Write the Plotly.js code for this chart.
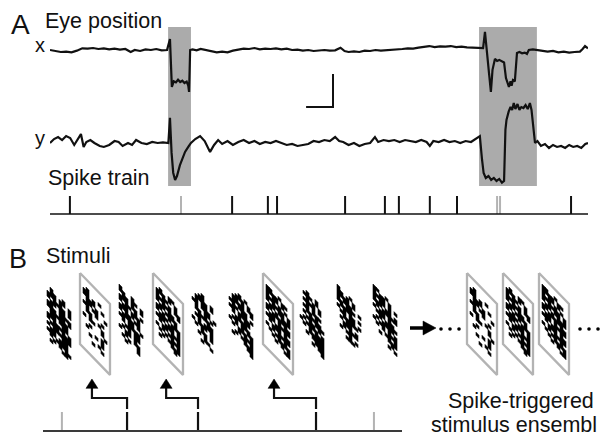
<!DOCTYPE html>
<html><head><meta charset="utf-8">
<script src="https://cdn.plot.ly/plotly-3.0.1.min.js"></script>
<style>html,body{margin:0;padding:0;background:#fff}#chart{width:600px;height:437px}</style>
</head><body><div id="chart"></div>
<script>
// ---------- DATA ----------
// Panel A: horizontal eye position (deg) vs time (ms)
const tEyeX = [0,20,40,60,80,100,120,140,160,180,200,220,240,260,280,300,315,335,355,375,395,415,435,
  446,453,460,468,476,484,492,500,508,514,517,521,530,545,560,
  580,600,620,640,660,680,700,720,740,760,780,800,820,840,860,880,900,920,
  940,960,980,1000,1020,1040,1060,1080,1095,1110,1130,1150,1170,1190,1210,1230,1250,1270,1290,
  1310,1330,1350,1370,1390,1410,1430,1450,1470,1490,1510,1530,1550,1570,1590,1610,
  1617,1624,1632,1639,1645,1654,1662,1670,1680,1688,1695,1700,1706,1712,1716,1721,1728,1736,
  1745,1755,1765,1773,1780,1795,1810,1830,1850,1870,1890,1910,1930,1950,1970,1980,1989,2000];
const eyeXdeg = [0.00,-0.03,-0.06,-0.05,-0.07,-0.02,0.05,0.04,0.06,0.03,0.05,0.02,0.04,0.01,0.03,-0.06,0.00,-0.03,0.02,0.00,0.03,-0.01,0.00,
  0.33,-1.12,-0.95,-0.98,-0.90,-0.97,-0.93,-1.00,-0.96,-1.08,-1.27,0.00,0.02,-0.01,0.03,
  0.00,-0.03,-0.07,-0.05,-0.07,-0.02,0.02,0.04,0.03,0.06,0.02,0.04,0.03,0.05,0.02,0.04,0.00,0.01,
  -0.02,0.00,-0.03,-0.01,0.00,-0.02,-0.01,0.07,-0.03,-0.06,-0.04,-0.06,-0.02,-0.03,0.00,-0.02,-0.01,0.01,0.00,
  0.03,0.05,0.04,0.07,0.09,0.12,0.09,0.11,0.10,0.12,0.09,0.10,0.08,0.07,0.06,0.06,
  0.55,0.05,-0.70,-1.27,-0.60,-0.27,-0.33,-0.30,-0.36,-0.38,-0.85,-1.00,-1.12,-0.95,-1.08,-0.91,-0.95,-0.09,
  -0.06,-0.10,-0.08,-0.12,0.00,0.02,0.00,-0.02,-0.05,-0.03,-0.07,-0.05,-0.08,-0.06,-0.05,0.03,0.12,0.05];
// Panel A: vertical eye position (deg) vs time (ms)
const tEyeY = [0,15,30,45,60,75,90,105,115,125,135,150,165,185,200,220,240,255,270,290,305,320,340,360,380,400,420,440,
  446,452,458,465,472,483,495,502,514,524,540,558,575,595,610,625,640,660,680,700,720,740,760,780,800,820,840,860,880,900,920,
  940,960,980,1000,1020,1040,1060,1075,1090,1110,1130,1150,1170,1190,1208,1220,1240,1260,1280,1300,1320,1340,1360,1380,1400,
  1412,1425,1445,1465,1485,1505,1525,1545,1565,1580,1598,1606,1612,1620,1630,1640,1650,1660,1670,1680,1688,
  1693,1697,1705,1712,1718,1724,1730,1738,1745,1752,1760,1768,1776,1784,1790,1796,1803,1812,1825,1840,1855,1870,1885,1900,1915,1930,1945,1960,1975,1990,2000];
const eyeYdeg = [0.00,0.12,0.18,0.09,0.21,0.15,-0.06,0.12,0.27,-0.12,0.03,0.09,0.00,-0.09,-0.12,-0.06,0.06,0.03,-0.09,0.00,-0.06,0.09,0.00,-0.03,0.03,0.00,0.02,0.00,
  0.76,-0.30,-0.90,-1.12,-1.00,-0.67,-0.45,-0.27,-0.12,0.00,0.12,0.21,0.06,-0.27,-0.06,0.09,-0.03,0.06,-0.06,0.03,0.09,0.00,0.06,-0.03,0.03,0.00,0.06,0.00,-0.06,-0.03,-0.09,
  -0.06,-0.03,0.06,0.03,0.09,0.06,0.18,0.06,0.03,-0.06,0.00,-0.09,-0.03,0.00,0.18,0.03,0.09,0.06,0.09,0.03,0.09,0.06,0.03,0.09,0.03,
  -0.09,0.06,0.03,0.09,0.03,0.06,0.00,0.06,0.03,0.12,0.21,-0.50,-0.91,-1.06,-1.00,-1.12,-1.06,-1.15,-1.09,-1.20,-1.15,
  0.40,0.70,0.95,1.09,1.00,1.21,1.03,1.18,1.00,1.09,1.06,1.15,1.03,1.21,1.00,0.50,0.00,0.06,-0.09,-0.03,-0.15,-0.06,-0.12,-0.09,-0.15,-0.06,-0.12,-0.09,-0.15,-0.03,0.00];
// saccade windows (ms)
const saccadeStart = [439, 1595];
const saccadeEnd = [524, 1810];
// spike times (ms)
const spikeBlackA = [74, 677, 810, 844, 1097, 1245, 1297, 1412, 1513, 1937];
const spikeGreyA = [487, 1662, 1673];
// scale bar
const scaleBarMs = 100, scaleBarDeg = 1;
const scaleBarEndMs = 1052, scaleBarBaseDeg = -1.73;

// Panel B: stimulus frames, binary noise; each pattern = 18 rows (top->bottom) of 8 cells
const stimPatterns = [
 [".#...#..",".##.##.#","###.#..#","#.####.#",".##.##..","##..####","###.##.#",".######.",".##.###.","###..##.","#.####.#",".###.###","#.######",".##..##.","###.###.",".#.####.","..#.#.##",".#...##."],
 [".#......","##...#..","##.#....",".###..#.",".##.#...","##.##..#",".#..#...",".##...#.","..#..#..","#.##..#.","......#.","..#....#",".#....#.","....#.#.","..#...#.",".....#..","...#..#.","........"],
 ["#...#...","##..##.#",".##.#..#","###.##..","#.##.#.#",".##.###.","###.#.#.","#.##.##.",".####.#.","##.##..#",".#.####.","..##.##.",".#.#.##.","#.##.#..","..#..##.",".#.#..#.","..#...#.","........"],
 [".#..##..","###.#.#.","#.##..#.","###.#.##","#.###..#",".##.##..","##.####.","#.#.#.#.",".###.###","###.##.#",".#.###.#","..##.###","#.#.##.#",".#.#.###","..#.##.#",".#...###","......#.","........"],
 ["...#....","..##..#.",".####.#.",".#.##...","##.###..",".#..##.#",".##.#.#.","..####..",".##..##.","..#.###.","#.###.#.",".#.#..#.","...##.#.","..#.#...","....##..","...#..#.","........","........"],
 ["...#.#..","..###.#.",".##.#.##",".####..#","##.###..",".##.##.#","##.####.",".#.#.##.","..####..",".##.###.","#.#.#.##",".#.###.#","...#.###","..#.##.#",".#...###","......##",".......#","........"],
 ["##..#...","####.##.","#.##.#..","###.#.#.","#.####.#",".##.##.#","##.#.###","#.#####.",".##.#.##","###.####",".#.##.#.","..###.##","#.#.####",".#.##.#.","..#.####","...#.#.#","......##","........"],
 ["..#..#..",".###.#..","..#.#.#.",".####.#.","..#.#...",".##.###.","..##.#..",".#.####.","..##.###",".#.##.#.","#.####.#",".#.#.###","...#####","..#.####",".....###","....#.##",".......#","........"],
 ["#...#...","##.#.#..","####.#..","#.###..#","##.###..",".####..#","#.#.##..",".##.##.#","..#####.",".#.##...","..###.#.","..#.###.",".#.##...","....#.#.","...###..","........","........","........"],
 ["##..#...","#.##.#..","####.#.#","#.##.#..","###.##.#",".#.#####","#.##.#..",".###.##.","..#.####",".#.####.","#.##.#.#",".#.#.###","....##.#","..#..###","......#.",".....#.#","........","........"]
];
const framedIdx = [1, 3, 6];          // frames that preceded a spike
const ensembleIdx = [1, 3, 6];        // spike-triggered stimulus ensemble
// Panel B spike train (ms)
const spikeBlackB = [188, 384, 710];
const spikeGreyB = [8, 870];
const triggeredFrameT = [91, 296, 594];

// ---------- LAYOUT CONSTANTS ----------
const W = 600, H = 437;
const dom = (topPx, botPx) => [1 - botPx / H, 1 - topPx / H];
const patX = [47, 83, 119, 156, 192, 229, 266, 300, 337, 373];
const ensFrameX = [467, 503, 539];
const frameTop = 273, frameW = 30, frameH = 71, patTop = 284, cell = 3, shear = 1.03;
const black = '#111111', grey = '#b3b3b3';

const traces = [];
traces.push({x: tEyeX, y: eyeXdeg, xaxis: 'x2', yaxis: 'y2', mode: 'lines', line: {color: black, width: 2.2}});
traces.push({x: tEyeY, y: eyeYdeg, xaxis: 'x2', yaxis: 'y3', mode: 'lines', line: {color: black, width: 2.2}});
traces.push({x: [scaleBarEndMs - scaleBarMs, scaleBarEndMs, scaleBarEndMs],
  y: [scaleBarBaseDeg, scaleBarBaseDeg, scaleBarBaseDeg + scaleBarDeg],
  xaxis: 'x2', yaxis: 'y2', mode: 'lines', line: {color: black, width: 2}});
function spikeSeg(times, y0, y1) {
  const x = [], y = [];
  times.forEach(t => { x.push(t, t, null); y.push(y0, y1, null); });
  return {x, y};
}
let s = spikeSeg(spikeGreyA, 0, 1);
traces.push({x: s.x, y: s.y, xaxis: 'x2', yaxis: 'y4', mode: 'lines', line: {color: grey, width: 2}});
s = spikeSeg(spikeBlackA, 0, 1);
traces.push({x: s.x, y: s.y, xaxis: 'x2', yaxis: 'y4', mode: 'lines', line: {color: black, width: 2}});
traces.push({x: [0, 2000], y: [0, 0], xaxis: 'x2', yaxis: 'y4', mode: 'lines', line: {color: black, width: 1.6}});

// Panel B frames
function framePath(fx) {
  return [[fx, frameTop], [fx + frameW, frameTop + frameW * shear], [fx + frameW, frameTop + frameW * shear + frameH], [fx, frameTop + frameH], [fx, frameTop]];
}
const fxList = framedIdx.map(i => patX[i] - 3).concat(ensFrameX);
const fX = [], fY = [];
fxList.forEach(fx => { framePath(fx).forEach(p => { fX.push(p[0]); fY.push(p[1]); }); fX.push(null); fY.push(null); });
traces.push({x: fX, y: fY, mode: 'lines', line: {color: grey, width: 2.3}, xaxis: 'x', yaxis: 'y'});
// patterns: merge vertical runs of black cells within each column into one sheared block
const pX = [], pY = [];
function drawPattern(pat, x0, y0) {
  const nr = pat.length, nc = pat[0].length;
  for (let c = 0; c < nc; c++) {
    let r = 0;
    while (r < nr) {
      if (pat[r][c] === '#') {
        let r1 = r;
        while (r1 + 1 < nr && pat[r1 + 1][c] === '#') r1++;
        const xa = x0 + c * cell, xb = xa + cell;
        const ya = y0 + r * cell + shear * c * cell;
        const h = (r1 - r + 1) * cell;
        pX.push(xa, xb, xb, xa, xa, null);
        pY.push(ya, ya + shear * cell, ya + shear * cell + h, ya + h, ya, null);
        r = r1 + 1;
      } else r++;
    }
  }
}
stimPatterns.forEach((pat, i) => drawPattern(pat, patX[i], patTop));
ensembleIdx.forEach((pi, k) => drawPattern(stimPatterns[pi], ensFrameX[k] + 3, patTop));
traces.push({x: pX, y: pY, mode: 'lines', fill: 'toself', fillcolor: '#000', line: {color: '#000', width: 0.6}, xaxis: 'x', yaxis: 'y'});

// right arrow and dots
traces.push({x: [410, 425], y: [328, 328], mode: 'lines', line: {color: '#000', width: 3.5}, xaxis: 'x', yaxis: 'y'});
traces.push({x: [423, 436, 423, 423], y: [321, 328, 335, 321], mode: 'lines', fill: 'toself', fillcolor: '#000', line: {color: '#000', width: 0.5}, xaxis: 'x', yaxis: 'y'});
traces.push({x: [441, 450, 459, 580, 589, 598], y: [329, 329, 329, 329, 329, 329], mode: 'markers', marker: {color: '#000', size: 3.6}, xaxis: 'x', yaxis: 'y'});

// Panel B spike train and arrows
s = spikeSeg(spikeGreyB, 0, 0.365);
traces.push({x: s.x, y: s.y, xaxis: 'x3', yaxis: 'y5', mode: 'lines', line: {color: grey, width: 2}});
s = spikeSeg(spikeBlackB, 0, 0.365);
traces.push({x: s.x, y: s.y, xaxis: 'x3', yaxis: 'y5', mode: 'lines', line: {color: black, width: 2.2}});
const aX = [], aY = [], hX = [], hY = [];
const headHalf = 16.5;
spikeBlackB.forEach((t, i) => {
  const f = triggeredFrameT[i];
  aX.push(t, t, f, f, null); aY.push(0.423, 0.635, 0.635, 0.83, null);
  hX.push(f - headHalf, f + headHalf, f, f - headHalf, null); hY.push(0.82, 0.82, 1.0, 0.82, null);
});
traces.push({x: aX, y: aY, xaxis: 'x3', yaxis: 'y5', mode: 'lines', line: {color: black, width: 2.2}});
traces.push({x: hX, y: hY, xaxis: 'x3', yaxis: 'y5', mode: 'lines', fill: 'toself', fillcolor: '#000', line: {color: '#000', width: 0.5}});
traces.push({x: [-44.2, 947.5], y: [0, 0], xaxis: 'x3', yaxis: 'y5', mode: 'lines', line: {color: '#3a3a3a', width: 1.8}});

const font = 'Liberation Sans, Arial, sans-serif';
function ann(text, x, y, size, anchor) {
  return {text, x, y, xref: 'x', yref: 'y', showarrow: false, xanchor: anchor || 'left', yanchor: 'middle',
    font: {family: font, size, color: '#111'}};
}
const hid = {visible: false, showgrid: false, zeroline: false, fixedrange: true};
const layout = {
  width: W, height: H, margin: {l: 0, r: 0, t: 0, b: 0},
  paper_bgcolor: '#fff', plot_bgcolor: 'rgba(0,0,0,0)', showlegend: false, hovermode: false,
  xaxis: Object.assign({domain: [0, 1], range: [0, W]}, hid),
  yaxis: Object.assign({domain: [0, 1], range: [H, 0]}, hid),
  xaxis2: Object.assign({domain: [50 / W, 588 / W], range: [0, 2000], anchor: 'y2'}, hid),
  yaxis2: Object.assign({domain: dom(50 - 0.7 * 33, 50 + 1.8 * 33), range: [-1.8, 0.7], anchor: 'x2'}, hid),
  yaxis3: Object.assign({domain: dom(143 - 1.5 * 33, 143 + 1.5 * 33), range: [-1.5, 1.5], anchor: 'x2'}, hid),
  yaxis4: Object.assign({domain: dom(196, 214 + 0.15 * 18), range: [-0.15, 1], anchor: 'x2'}, hid),
  xaxis3: Object.assign({domain: [43 / W, 402 / W], range: [-44.2, 947.5], anchor: 'y5'}, hid),
  yaxis5: Object.assign({domain: dom(379 - 0.05 * 52, 431 + 0.1 * 52), range: [-0.1, 1.05], anchor: 'x3'}, hid),
  shapes: saccadeStart.map((t0, i) => ({type: 'rect', xref: 'x2', yref: 'paper', x0: t0, x1: saccadeEnd[i],
    y0: 1 - 186 / H, y1: 1 - 27 / H, fillcolor: '#ababab', line: {width: 0}, layer: 'below'})),
  annotations: [
    ann('A', 9, 24, 28), ann('Eye position', 43, 21, 21.5),
    ann('x', 33, 45, 20), ann('y', 33, 138, 20),
    ann('Spike train', 46, 177.5, 21.5),
    ann('B', 7, 259, 27), ann('Stimuli', 44, 255.5, 21.5),
    ann('Spike-triggered', 446, 400.5, 21.5), ann('stimulus ensembl', 429, 424.5, 21.5)
  ]
};
Plotly.newPlot('chart', traces, layout, {staticPlot: true, displayModeBar: false});
</script></body></html>
